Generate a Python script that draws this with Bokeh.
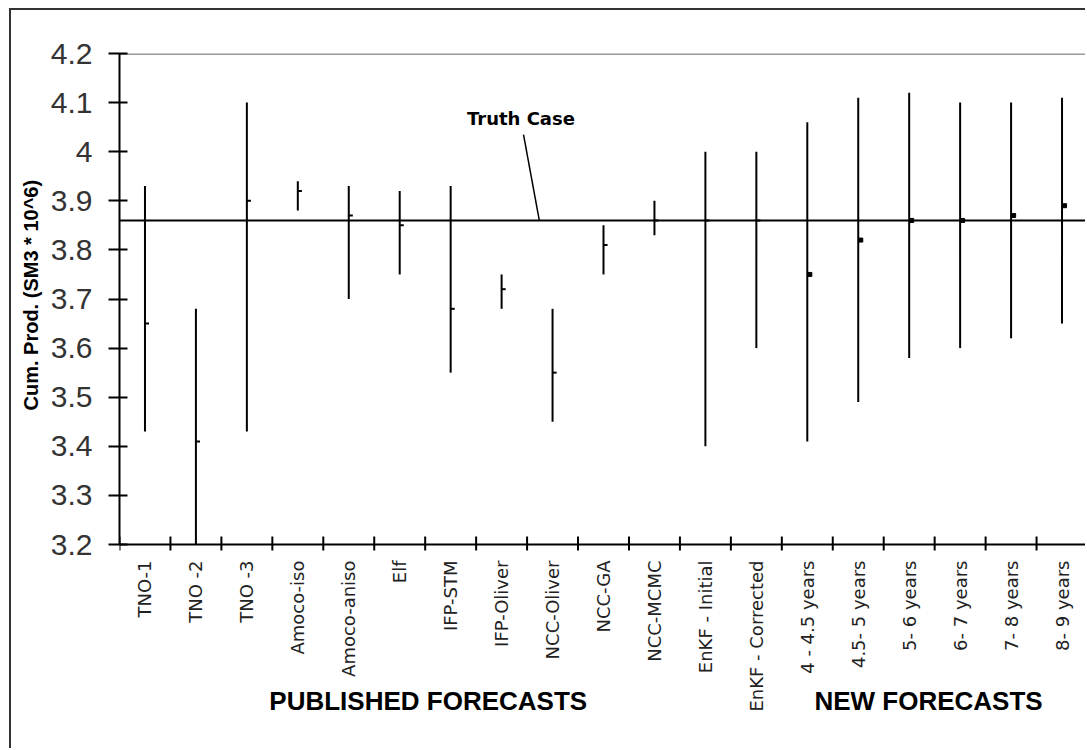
import math
from bokeh.plotting import figure
from bokeh.models import (Range1d, FixedTicker, LinearAxis, Span, Title,
                          CustomJSTickFormatter, ColumnDataSource)
from bokeh.core.properties import value
from bokeh.embed import file_html
from bokeh.resources import INLINE

# Forecast names, in axis order
forecasts = ["TNO-1", "TNO -2", "TNO -3", "Amoco-iso", "Amoco-aniso", "Elf",
             "IFP-STM", "IFP-Oliver", "NCC-Oliver", "NCC-GA", "NCC-MCMC",
             "EnKF - Initial", "EnKF - Corrected", "4 - 4.5 years",
             "4.5- 5 years", "5- 6 years", "6- 7 years", "7- 8 years",
             "8- 9 years"]
n_published = 13

# Cumulative production range and mean for each forecast (SM3 * 10^6)
high = [3.93, 3.68, 4.10, 3.94, 3.93, 3.92, 3.93, 3.75, 3.68, 3.85, 3.90,
        4.00, 4.00, 4.06, 4.11, 4.12, 4.10, 4.10, 4.11]
low = [3.43, 3.20, 3.43, 3.88, 3.70, 3.75, 3.55, 3.68, 3.45, 3.75, 3.83,
       3.40, 3.60, 3.41, 3.49, 3.58, 3.60, 3.62, 3.65]
mean = [3.65, 3.41, 3.90, 3.92, 3.87, 3.85, 3.68, 3.72, 3.55, 3.81, 3.86,
        3.86, 3.86, 3.75, 3.82, 3.86, 3.86, 3.87, 3.89]

truth = 3.86
y_lo, y_hi = 3.2, 4.2
y_ticks = [3.2, 3.3, 3.4, 3.5, 3.6, 3.7, 3.8, 3.9, 4.0, 4.1, 4.2]
captions = ["PUBLISHED FORECASTS", "NEW FORECASTS"]

n = len(forecasts)
centers = [i + 0.5 for i in range(n)]
bounds = list(range(n + 1))

# Canvas geometry: the plotting frame runs from the top of the value
# axis down to the bottom of the page, so the category axis, its names
# and the group captions are drawn inside it.
W, H = 1076, 740
left, top = 107, 43
px_per_unit = 491.0
frame_h = H - top
y_min = y_hi - frame_h / px_per_unit
dy = 1.0 / px_per_unit          # one pixel in y data units

p = figure(width=W, height=H,
           x_range=Range1d(0, n), y_range=Range1d(y_min, y_hi),
           x_axis_type=None, y_axis_type=None,
           output_backend="svg", toolbar_location=None,
           min_border_left=left, min_border_right=0,
           min_border_top=top, min_border_bottom=0,
           background_fill_color="white", border_fill_color="white")
p.outline_line_color = None
p.margin = 0
p.styles = {"margin-left": "9px", "margin-top": "8px",
            "border-left": "2px solid #333333",
            "border-top": "2px solid #333333"}

# Y axis
yaxis = LinearAxis(
    bounds=(y_lo, y_hi),
    ticker=FixedTicker(ticks=y_ticks, minor_ticks=[]),
    formatter=CustomJSTickFormatter(code="return String(Math.round(tick * 10) / 10)"),
    major_label_text_font="Liberation Sans",
    major_label_text_font_size="30px",
    major_label_text_color="#333333",
    major_label_standoff=16,
    major_tick_out=11, major_tick_in=8,
    major_tick_line_width=2, major_tick_line_color="black",
    minor_tick_line_color=None,
    axis_line_width=2, axis_line_color="black",
)
p.add_layout(yaxis, "left")

# Y axis title, set from the bottom of the frame so that it sits
# alongside the value range
p.add_layout(Title(text="Cum. Prod. (SM3 * 10^6)", align="left",
                   offset=340,
                   text_font="Liberation Sans", text_font_style="bold",
                   text_font_size="20px", text_color="black",
                   standoff=12), "left")

# Plot box edges (top and right)
p.segment(x0=[0, n], y0=[y_hi, y_lo], x1=[n, n], y1=[y_hi, y_hi],
          line_color="#9a9a9a", line_width=3)

# Category axis: line, boundary ticks and names
p.segment(x0=[0], y0=[y_lo], x1=[n], y1=[y_lo],
          line_color="black", line_width=2)
p.segment(x0=bounds, y0=[y_lo + 8 * dy] * len(bounds),
          x1=bounds, y1=[y_lo - 6 * dy] * len(bounds),
          line_color="black", line_width=2)
p.text(x=centers, y=[y_lo - 16 * dy] * n, text=forecasts,
       angle=math.pi / 2, text_align="right", text_baseline="middle",
       text_font=value("DejaVu Sans"), text_font_size="18px",
       text_color="#222222")

# Group captions
p.text(x=[6.06, 15.88], y=[y_lo - 156 * dy] * 2, text=captions,
       text_align="center", text_baseline="middle",
       text_font=value("Liberation Sans"), text_font_style="bold",
       text_font_size="26px", text_color="black")

# Forecast ranges
src = ColumnDataSource(dict(x=centers, low=low, high=high))
p.segment(x0="x", y0="low", x1="x", y1="high", source=src,
          line_color="black", line_width=2)

# Mean of each forecast: small tick for published, dot for new ones
pub = ColumnDataSource(dict(x=centers[:n_published],
                            x1=[c + 0.08 for c in centers[:n_published]],
                            y=mean[:n_published]))
p.segment(x0="x", y0="y", x1="x1", y1="y", source=pub,
          line_color="black", line_width=2)
new = ColumnDataSource(dict(x=[c + 0.05 for c in centers[n_published:]],
                            y=mean[n_published:]))
p.scatter(x="x", y="y", source=new, marker="square", size=4,
          fill_color="black", line_color="black")

# Truth case line with its callout
p.add_layout(Span(location=truth, dimension="width",
                  line_color="black", line_width=2))
p.segment(x0=[7.93], y0=[4.035], x1=[8.24], y1=[truth],
          line_color="black", line_width=1.5)
p.text(x=[6.82], y=[4.068], text=["Truth Case"],
       text_align="left", text_baseline="middle",
       text_font=value("DejaVu Sans"), text_font_style="bold",
       text_font_size="18px", text_color="black")

open("out.html", "w").write(file_html(p, INLINE))
